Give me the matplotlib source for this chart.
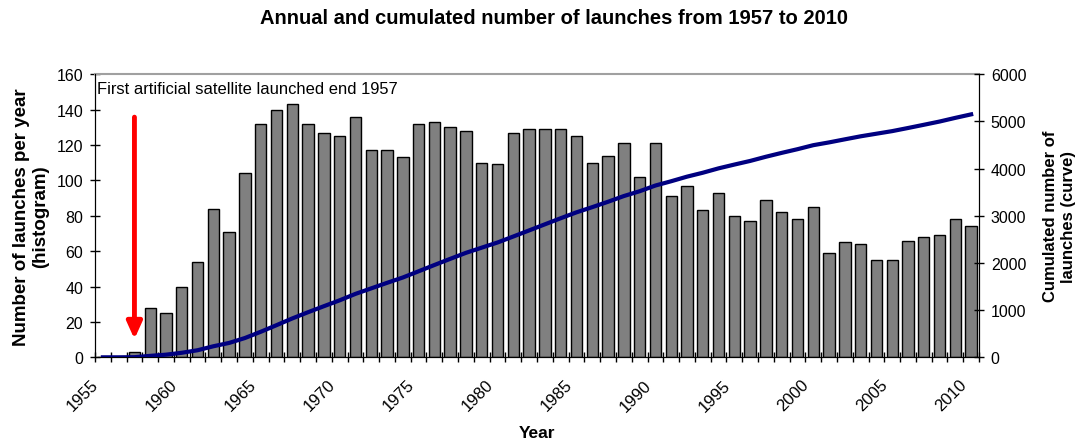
import matplotlib
matplotlib.use("Agg")
import matplotlib.pyplot as plt
import matplotlib.transforms as mtransforms
import numpy as np

plt.rcParams['font.family'] = ['Liberation Sans', 'DejaVu Sans']

years = list(range(1955, 2011))
launches = [0, 0, 3, 28, 25, 40, 54, 84, 71, 104, 132, 140, 143, 132, 127, 125, 136, 117, 117, 113,
            132, 133, 130, 128, 110, 109, 127, 129, 129, 129, 125, 110, 114, 121, 102, 121, 91, 97,
            83, 93, 80, 77, 89, 82, 78, 85, 59, 65, 64, 55, 55, 66, 68, 69, 78, 74]
cumulated = [0, 0, 3, 31, 56, 96, 150, 234, 305, 409, 541, 681, 824, 956, 1083, 1208, 1344, 1461,
             1578, 1691, 1823, 1956, 2086, 2214, 2324, 2433, 2560, 2689, 2818, 2947, 3072, 3182,
             3296, 3417, 3519, 3640, 3731, 3828, 3911, 4004, 4084, 4161, 4250, 4332, 4410, 4495,
             4554, 4619, 4683, 4738, 4793, 4859, 4927, 4996, 5074, 5148]
year_labels = [str(y) if y % 5 == 0 else "" for y in years]

title = "Annual and cumulated number of launches from 1957 to 2010"
annotation = "First artificial satellite launched end 1957"

fig = plt.figure(figsize=(10.78, 4.39), dpi=100)
ax = fig.add_axes([0.0881, 0.1838, 0.8201, 0.645])
x = np.arange(len(years))
ax.bar(x, launches, width=0.72, color='#808080', edgecolor='black', linewidth=1.0, zorder=2)
ax.set_xlim(-0.5, len(years) - 0.5)
ax.set_ylim(0, 160)
ax.set_yticks(np.arange(0, 161, 20))
ax.set_xticks(x)
ax.set_xticklabels(year_labels, rotation=45, ha='right', va='top', rotation_mode='anchor', fontsize=12)
ax.tick_params(axis='x', which='major', length=0, pad=14)
offset = mtransforms.ScaledTranslation(-12 / 100, 0, fig.dpi_scale_trans)
for lab in ax.get_xticklabels():
    lab.set_transform(lab.get_transform() + offset)
ax.set_xticks(np.arange(-0.5, len(years), 1), minor=True)
ax.tick_params(axis='x', which='minor', direction='inout', length=7, width=1)
ax.tick_params(axis='y', direction='inout', length=7, width=1, labelsize=11.5, pad=5)
for s in ['left', 'bottom', 'right']:
    ax.spines[s].set_color('black')
ax.spines['top'].set_color('#a0a0a0')
ax.spines['top'].set_linewidth(1.5)
ax.set_ylabel("Number of launches per year\n(histogram)", fontsize=13.5, fontweight='bold', labelpad=5)
ax.set_xlabel("Year", fontsize=12.5, fontweight='bold', labelpad=8)

ax2 = ax.twinx()
ax2.plot(x, cumulated, color='#000080', linewidth=3, zorder=3)
ax2.set_ylim(0, 6000)
ax2.set_yticks(np.arange(0, 6001, 1000))
ax2.tick_params(axis='y', direction='inout', length=7, width=1, labelsize=11.5, pad=5)
ax2.spines['top'].set_visible(False)
ax2.set_ylabel("Cumulated number of\nlaunches (curve)", fontsize=12, fontweight='bold', labelpad=12)

ax.text(0.002, 0.975, annotation, transform=ax.transAxes, ha='left', va='top', fontsize=11.9, zorder=5)
ax2.annotate("", xy=(2, 10.3 * 6000 / 160), xytext=(2, 135.7 * 6000 / 160),
             arrowprops=dict(arrowstyle='-|>,head_width=0.45,head_length=1.0', color='#ff0000',
                             lw=3.5, shrinkA=0, shrinkB=0), zorder=6)

fig.suptitle(title, fontsize=14.5, fontweight='bold', x=0.514, y=0.98)
fig.savefig("out.png", dpi=100)
